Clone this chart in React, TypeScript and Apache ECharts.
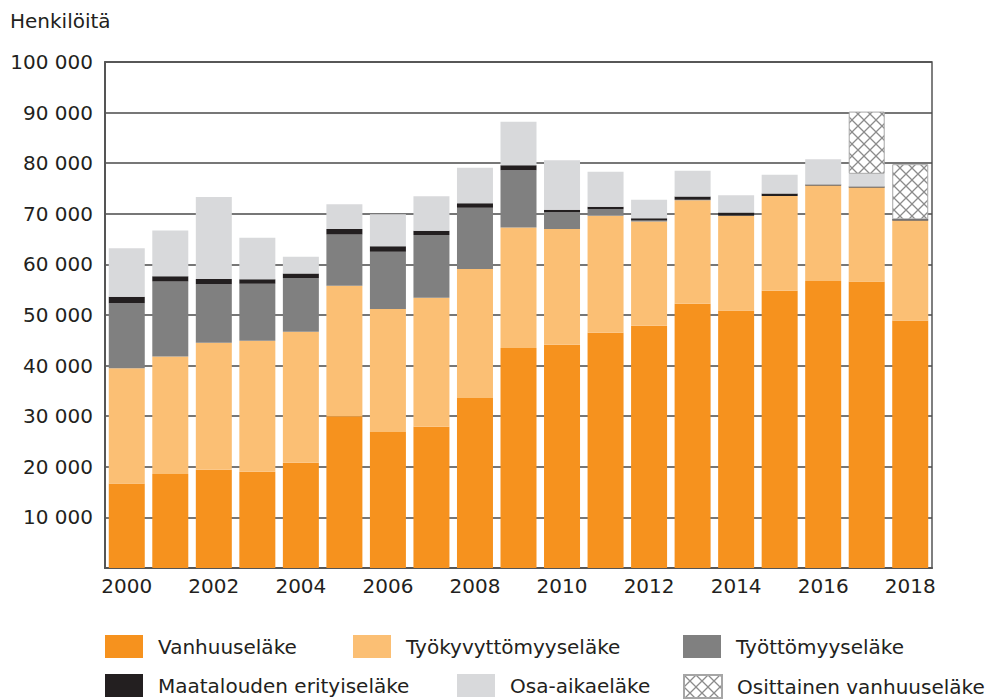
import React, { useEffect, useRef } from "react";
import * as echarts from "echarts";

const years = ["2000","2001","2002","2003","2004","2005","2006","2007","2008","2009","2010","2011","2012","2013","2014","2015","2016","2017","2018"];
const vanhuus = [16700, 18600, 19400, 19000, 20800, 30000, 26900, 27900, 33600, 43500, 44100, 46500, 47900, 52200, 50900, 54800, 56700, 56600, 48900];
const tyokyvyttomyys = [22800, 23200, 25100, 25900, 25900, 25800, 24300, 25500, 25500, 23800, 22900, 23100, 20600, 20500, 18700, 18700, 18900, 18600, 19800];
const tyottomyys = [12800, 14800, 11600, 11300, 10600, 10100, 11300, 12400, 12100, 11300, 3300, 1300, 200, 100, 0, 0, 0, 0, 0];
const maatalous = [1300, 1050, 1000, 850, 900, 1100, 1100, 850, 900, 1000, 500, 500, 400, 600, 650, 500, 200, 200, 200];
const osaAika = [9600, 9050, 16200, 8200, 3300, 4900, 6300, 6800, 7000, 8600, 9800, 6900, 3700, 5100, 3400, 3700, 5000, 2500, 0];
const osittainen = [null, null, null, null, null, null, null, null, null, null, null, null, null, null, null, null, null, 12300, 10900];

const seriesNames = ["Vanhuuseläke", "Työkyvyttömyyseläke", "Työttömyyseläke", "Maatalouden erityiseläke", "Osa-aikaeläke", "Osittainen vanhuuseläke"];
const FONT = "'DejaVu Sans', sans-serif";

function makePattern() {
  const c = document.createElement("canvas");
  c.width = 12;
  c.height = 12;
  const ctx = c.getContext("2d")!;
  ctx.fillStyle = "#ffffff";
  ctx.fillRect(0, 0, 12, 12);
  ctx.strokeStyle = "#8c8c8c";
  ctx.lineWidth = 1.3;
  ctx.beginPath();
  ctx.moveTo(0, 0);
  ctx.lineTo(12, 12);
  ctx.moveTo(12, 0);
  ctx.lineTo(0, 12);
  ctx.stroke();
  return c;
}

export default function App() {
  const ref = useRef<HTMLDivElement>(null);
  useEffect(() => {
    document.body.style.margin = "0";
    const chart = echarts.init(ref.current!, null, { renderer: "svg" });
    const pattern = makePattern();
    const fmt = (v: number) => (v === 0 ? "" : String(v).replace(/\B(?=(\d{3})+(?!\d))/g, " "));
    const legendPos = [
      [105, 635], [353, 635], [683, 635],
      [105, 674], [457, 674], [683, 674],
    ];
    const legends = seriesNames.map((n, i) => ({
      data: [n],
      left: legendPos[i][0],
      top: legendPos[i][1],
      padding: 0,
      itemWidth: 38,
      itemHeight: 23,
      icon: "rect",
      selectedMode: false,
      textStyle: { fontFamily: FONT, fontSize: 20, color: "#231f20", padding: [0, 0, 0, 10] },
    }));
    const mk = (name: string, data: any[], color: any, extra: any = {}) => ({
      name,
      type: "bar",
      stack: "total",
      data,
      barWidth: 36,
      itemStyle: { color, ...extra },
    });
    chart.setOption({
      animation: false,
      title: {
        text: "Henkilöitä",
        left: 10,
        top: 11,
        padding: 0,
        textStyle: { fontFamily: FONT, fontSize: 20, fontWeight: "normal", color: "#231f20" },
      },
      legend: legends,
      grid: {
        left: 105,
        right: 62,
        top: 62,
        bottom: 132,
        show: true,
        borderColor: "#555555",
        borderWidth: 1.5,
      },
      xAxis: {
        type: "category",
        data: years,
        axisTick: { show: false },
        axisLine: { lineStyle: { color: "#555555", width: 2 } },
        axisLabel: { interval: 1, fontFamily: FONT, fontSize: 20, color: "#231f20", margin: 8 },
      },
      yAxis: {
        type: "value",
        min: 0,
        max: 100000,
        interval: 10000,
        axisLine: { show: true, lineStyle: { color: "#555555", width: 2 } },
        axisTick: { show: false },
        splitLine: { lineStyle: { color: "#4a4a4a", width: 1.5 } },
        axisLabel: { formatter: fmt, fontFamily: FONT, fontSize: 20, color: "#231f20", margin: 12 },
      },
      series: [
        mk(seriesNames[0], vanhuus, "#f6921e"),
        mk(seriesNames[1], tyokyvyttomyys, "#fbbf74"),
        mk(seriesNames[2], tyottomyys, "#808080"),
        mk(seriesNames[3], maatalous, "#231f20"),
        mk(seriesNames[4], osaAika, "#d8d9db"),
        mk(seriesNames[5], osittainen, { image: pattern, repeat: "repeat" }, { borderColor: "#a6a6a6", borderWidth: 1 }),
      ],
    });
    return () => chart.dispose();
  }, []);
  return <div ref={ref} style={{ width: 994, height: 700 }} />;
}
